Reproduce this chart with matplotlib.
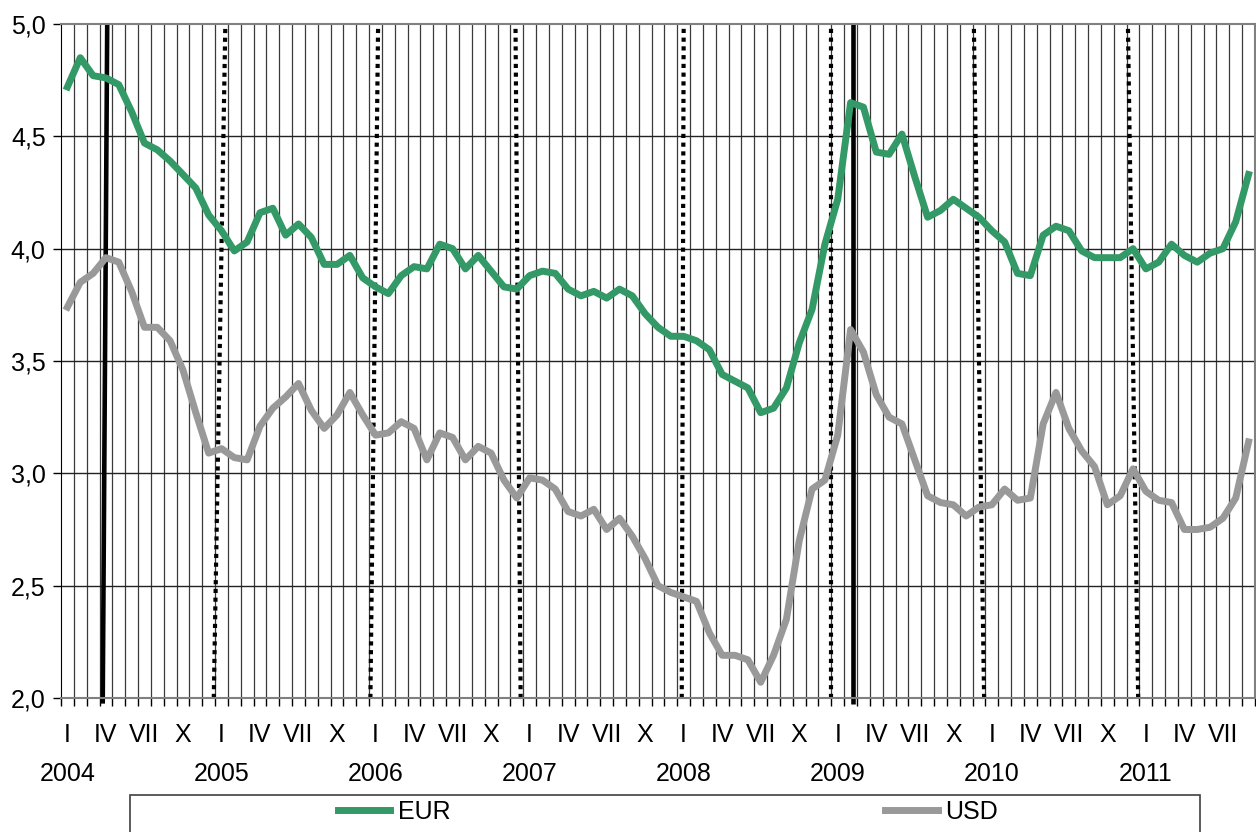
import matplotlib.pyplot as plt
import numpy as np
from matplotlib.patches import Rectangle

plt.rcParams['font.family'] = ['Liberation Sans Narrow', 'Liberation Sans', 'DejaVu Sans']

# monthly values, Jan 2004 .. Sep 2011
eur = [4.72, 4.85, 4.77, 4.76, 4.73, 4.61, 4.47, 4.44, 4.39, 4.33, 4.27, 4.15,
       4.08, 3.99, 4.03, 4.16, 4.18, 4.06, 4.11, 4.05, 3.93, 3.93, 3.97, 3.87,
       3.83, 3.80, 3.88, 3.92, 3.91, 4.02, 4.00, 3.91, 3.97, 3.90, 3.83, 3.82,
       3.88, 3.90, 3.89, 3.82, 3.79, 3.81, 3.78, 3.82, 3.79, 3.71, 3.65, 3.61,
       3.61, 3.59, 3.55, 3.44, 3.41, 3.38, 3.27, 3.29, 3.38, 3.58, 3.73, 4.02,
       4.22, 4.65, 4.63, 4.43, 4.42, 4.51, 4.32, 4.14, 4.17, 4.22, 4.18, 4.14,
       4.08, 4.03, 3.89, 3.88, 4.06, 4.10, 4.08, 3.99, 3.96, 3.96, 3.96, 4.00,
       3.91, 3.94, 4.02, 3.97, 3.94, 3.98, 4.00, 4.12, 4.33]
usd = [3.74, 3.85, 3.89, 3.96, 3.94, 3.81, 3.65, 3.65, 3.59, 3.46, 3.27, 3.09,
       3.11, 3.07, 3.06, 3.21, 3.29, 3.34, 3.40, 3.28, 3.20, 3.26, 3.36, 3.26,
       3.17, 3.18, 3.23, 3.20, 3.06, 3.18, 3.16, 3.06, 3.12, 3.09, 2.97, 2.89,
       2.98, 2.97, 2.93, 2.83, 2.81, 2.84, 2.75, 2.80, 2.72, 2.62, 2.50, 2.47,
       2.45, 2.43, 2.29, 2.19, 2.19, 2.17, 2.07, 2.19, 2.35, 2.70, 2.93, 2.97,
       3.17, 3.64, 3.54, 3.35, 3.25, 3.22, 3.06, 2.90, 2.87, 2.86, 2.81, 2.85,
       2.86, 2.93, 2.88, 2.89, 3.22, 3.36, 3.20, 3.10, 3.03, 2.86, 2.90, 3.02,
       2.92, 2.88, 2.87, 2.75, 2.75, 2.76, 2.80, 2.89, 3.14]
years = list(range(2004, 2012))
roman = ['I', 'IV', 'VII', 'X']

# marker lines (month index at top, month index at bottom)
solid_marks = [(3.1, 2.75), (61.2, 61.2)]
dotted_marks = [(12.3, 11.4), (24.2, 23.6), (34.9, 35.3), (48.0, 47.85),
                (59.45, 59.45), (70.6, 71.4), (82.6, 83.4)]

fig = plt.figure(figsize=(12.56, 8.32), dpi=100)
ax = fig.add_axes([61 / 1256, 1 - 698 / 832, 1194 / 1256, 674 / 832])

n = len(eur)
x = np.arange(n)

# grid
for b in np.arange(0.5, n - 0.5, 1.0):
    ax.axvline(b, color='#3a3a3a', lw=0.9, zorder=1)
for v in np.arange(2.5, 5.0, 0.5):
    ax.axhline(v, color='#222222', lw=1.0, zorder=1)

# marker lines
for top, bot in solid_marks:
    ax.plot([bot, top], [1.975, 5.0], color='black', lw=3.3, clip_on=False,
            solid_capstyle='butt', zorder=2)
for top, bot in dotted_marks:
    ax.plot([bot, top], [2.0, 5.0], color='black', lw=3.0, linestyle=(0, (1, 1.1)),
            clip_on=False, zorder=2)

ax.plot(x, eur, color='#339966', lw=5, label='EUR', zorder=3)
ax.plot(x, usd, color='#999999', lw=5, label='USD', zorder=3)

ax.set_xlim(-0.5, n - 0.5)
ax.set_ylim(2.0, 5.0)

yt = np.arange(2.0, 5.01, 0.5)
ax.set_yticks(yt)
ax.set_yticklabels([f'{v:.1f}'.replace('.', ',') for v in yt])
ax.tick_params(axis='y', direction='out', length=6, width=1, labelsize=18, pad=5)

ax.set_xticks(np.arange(-0.5, n, 1.0))
ax.set_xticklabels([])
ax.tick_params(axis='x', which='major', direction='out', length=6, width=1)
lab_pos = [i for i in range(n) if i % 3 == 0]
ax.set_xticks(lab_pos, minor=True)
ax.set_xticklabels([roman[(i % 12) // 3] for i in lab_pos], minor=True)
ax.tick_params(axis='x', which='minor', length=0, labelsize=18, pad=18)

for k, yr in enumerate(years):
    ax.annotate(str(yr), xy=(k * 12, 0), xycoords=('data', 'axes fraction'),
                xytext=(0, -46), textcoords='offset points',
                ha='center', va='top', fontsize=18)

for side in ['top', 'right', 'bottom']:
    ax.spines[side].set_color('#808080')
    ax.spines[side].set_linewidth(1.5)
ax.spines['left'].set_color('black')

# legend box
fig.patches.append(Rectangle((130 / 1256, -0.02), 1070 / 1256, 37 / 832 + 0.02,
                             transform=fig.transFigure, fill=False,
                             edgecolor='#404040', lw=1.2))
fig.legend(loc='center', bbox_to_anchor=(668 / 1256, 1 - 812 / 832), ncol=2,
           frameon=False, fontsize=18, handlelength=2.1, handletextpad=0.3,
           columnspacing=17.4, borderaxespad=0)

fig.savefig('out.png', dpi=100)
